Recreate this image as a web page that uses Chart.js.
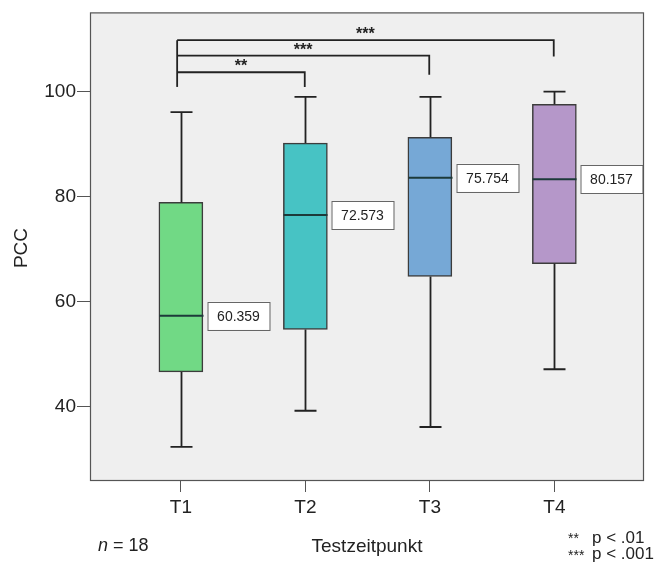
<!DOCTYPE html>
<html>
<head>
<meta charset="utf-8">
<script src="https://cdn.jsdelivr.net/npm/chart.js"></script>
<style>
  body { margin: 0; background: #fff; }
  #wrap { width: 656px; height: 570px; position: relative; }
</style>
</head>
<body>
<div id="wrap"><canvas id="box"></canvas></div>
<script>
// PCC per Testzeitpunkt
const labels = ['T1', 'T2', 'T3', 'T4'];
const whiskerLow = [32.3, 39.2, 36.1, 47.1];
const q1 = [46.6, 54.7, 64.8, 67.2];
const median = [57.3, 76.5, 83.6, 83.3];
const q3 = [78.9, 90.2, 91.3, 97.6];
const whiskerHigh = [96.1, 99.0, 99.0, 100.0];
const means = ['60.359', '72.573', '75.754', '80.157'];
const boxColors = ['#71d985', '#47c3c4', '#76a8d6', '#b597c9'];
const yTicks = [40, 60, 80, 100];

// significance brackets: from T1 to T2/T3/T4
const bracketTo = [2, 3, 4];
const bracketLevel = [103.7, 106.85, 109.8];
const bracketLegEnd = [100.9, 103.2, 106.7];
const bracketStars = ['**', '***', '***'];

const FONT = '"Liberation Sans", Arial, sans-serif';

const boxExtras = {
    id: 'boxExtras',
    beforeDraw(chart) {
        const a = chart.chartArea, ctx = chart.ctx;
        ctx.save();
        ctx.fillStyle = '#efefef';
        ctx.fillRect(a.left, a.top, a.right - a.left, a.bottom - a.top);
        ctx.restore();
    },
    afterDatasetsDraw(chart) {
        const ctx = chart.ctx, xs = chart.scales.x, ys = chart.scales.y, a = chart.chartArea;
        ctx.save();
        ctx.strokeStyle = '#222';
        ctx.lineCap = 'butt';
        labels.forEach((l, i) => {
            const cx = Math.round(xs.getPixelForValue(i + 1)) + 0.5;
            const half = 22, cap = 11;
            ctx.lineWidth = 1.8;
            ctx.beginPath();
            ctx.moveTo(cx, ys.getPixelForValue(q3[i]));
            ctx.lineTo(cx, ys.getPixelForValue(whiskerHigh[i]));
            ctx.moveTo(cx, ys.getPixelForValue(q1[i]));
            ctx.lineTo(cx, ys.getPixelForValue(whiskerLow[i]));
            ctx.moveTo(cx - cap, ys.getPixelForValue(whiskerHigh[i]));
            ctx.lineTo(cx + cap, ys.getPixelForValue(whiskerHigh[i]));
            ctx.moveTo(cx - cap, ys.getPixelForValue(whiskerLow[i]));
            ctx.lineTo(cx + cap, ys.getPixelForValue(whiskerLow[i]));
            ctx.stroke();
            // median
            const my = ys.getPixelForValue(median[i]);
            ctx.lineWidth = 2;
            ctx.strokeStyle = '#1d3a3a';
            ctx.beginPath();
            ctx.moveTo(cx - half, my);
            ctx.lineTo(cx + half, my);
            ctx.stroke();
            ctx.strokeStyle = '#222';
            // mean label
            const bx = cx + half + 4, bw = 62, bh = 28;
            ctx.fillStyle = '#fff';
            ctx.fillRect(bx, my - bh / 2, bw, bh);
            ctx.lineWidth = 1;
            ctx.strokeStyle = '#666';
            ctx.strokeRect(bx + 0.5, Math.round(my - bh / 2) + 0.5, bw, bh);
            ctx.strokeStyle = '#222';
            ctx.fillStyle = '#222';
            ctx.font = '14px ' + FONT;
            ctx.textAlign = 'center';
            ctx.textBaseline = 'middle';
            ctx.fillText(means[i], bx + bw / 2, my + 1);
        });

        // brackets
        const x0 = xs.getPixelForValue(0.97);
        ctx.lineWidth = 1.8;
        ctx.strokeStyle = '#222';
        ctx.beginPath();
        ctx.moveTo(x0, ys.getPixelForValue(bracketLevel[bracketLevel.length - 1]));
        ctx.lineTo(x0, ys.getPixelForValue(bracketLegEnd[0]));
        ctx.stroke();
        bracketTo.forEach((t, i) => {
            const x1 = xs.getPixelForValue(t - 0.005);
            const yl = ys.getPixelForValue(bracketLevel[i]);
            ctx.beginPath();
            ctx.moveTo(x0, yl);
            ctx.lineTo(x1, yl);
            ctx.lineTo(x1, ys.getPixelForValue(bracketLegEnd[i]));
            ctx.stroke();
            ctx.fillStyle = '#222';
            ctx.font = 'bold 16px ' + FONT;
            ctx.textAlign = 'center';
            ctx.textBaseline = 'alphabetic';
            ctx.fillText(bracketStars[i], (x0 + x1) / 2, yl - 1);
        });

        // frame
        ctx.lineWidth = 1.2;
        ctx.strokeStyle = '#555';
        ctx.strokeRect(a.left + 0.5, a.top + 0.5, a.right - a.left - 1, a.bottom - a.top);
        ctx.restore();
    },
    afterDraw(chart) {
        const ctx = chart.ctx, a = chart.chartArea;
        ctx.save();
        ctx.fillStyle = '#222';
        ctx.font = '19px ' + FONT;
        ctx.textAlign = 'center';
        ctx.textBaseline = 'middle';
        ctx.fillText('Testzeitpunkt', (a.left + a.right) / 2, 547);
        ctx.save();
        ctx.translate(22, 248);
        ctx.rotate(-Math.PI / 2);
        ctx.fillText('PCC', 0, 0);
        ctx.restore();
        // n = 18
        ctx.textAlign = 'left';
        ctx.font = 'italic 18px ' + FONT;
        ctx.fillText('n', 98, 546);
        const nw = ctx.measureText('n').width;
        ctx.font = '18px ' + FONT;
        ctx.fillText(' = 18', 98 + nw, 546);
        // legend
        ctx.textBaseline = 'alphabetic';
        ctx.font = '14px ' + FONT;
        ctx.fillText('**', 568, 543);
        ctx.fillText('***', 568, 560);
        ctx.font = '17px ' + FONT;
        ctx.fillText('p < .01', 592, 543);
        ctx.fillText('p < .001', 592, 559);
        ctx.restore();
    }
};

new Chart(document.getElementById('box'), {
    type: 'bar',
    data: {
        datasets: [{
            data: labels.map((l, i) => ({ x: i + 1, y: [q1[i], q3[i]] })),
            backgroundColor: boxColors,
            borderColor: '#3c3c3c',
            borderWidth: 1.5,
            borderSkipped: false,
            barThickness: 44
        }]
    },
    options: {
        responsive: true,
        maintainAspectRatio: false,
        animation: false,
        layout: { padding: { left: 0, top: 8, right: 12, bottom: 0 } },
        plugins: { legend: { display: false }, tooltip: { enabled: false } },
        scales: {
            x: {
                type: 'linear',
                min: 0.27,
                max: 4.72,
                offset: false,
                afterBuildTicks: s => { s.ticks = labels.map((l, i) => ({ value: i + 1 })); },
                afterFit: s => { s.height = 90; },
                ticks: {
                    callback: v => labels[v - 1],
                    font: { size: 19, family: FONT },
                    color: '#222',
                    padding: 4,
                    maxRotation: 0
                },
                grid: { offset: false, drawOnChartArea: false, drawTicks: true, tickLength: 12, color: '#555' },
                border: { display: false }
            },
            y: {
                min: 26,
                max: 115.1,
                afterBuildTicks: s => { s.ticks = yTicks.map(v => ({ value: v })); },
                afterFit: s => { s.width = 90; },
                ticks: {
                    font: { size: 19, family: FONT },
                    color: '#222',
                    padding: 1
                },
                grid: { drawOnChartArea: false, drawTicks: true, tickLength: 13, color: '#555' },
                border: { display: false }
            }
        }
    },
    plugins: [boxExtras]
});
</script>
</body>
</html>
